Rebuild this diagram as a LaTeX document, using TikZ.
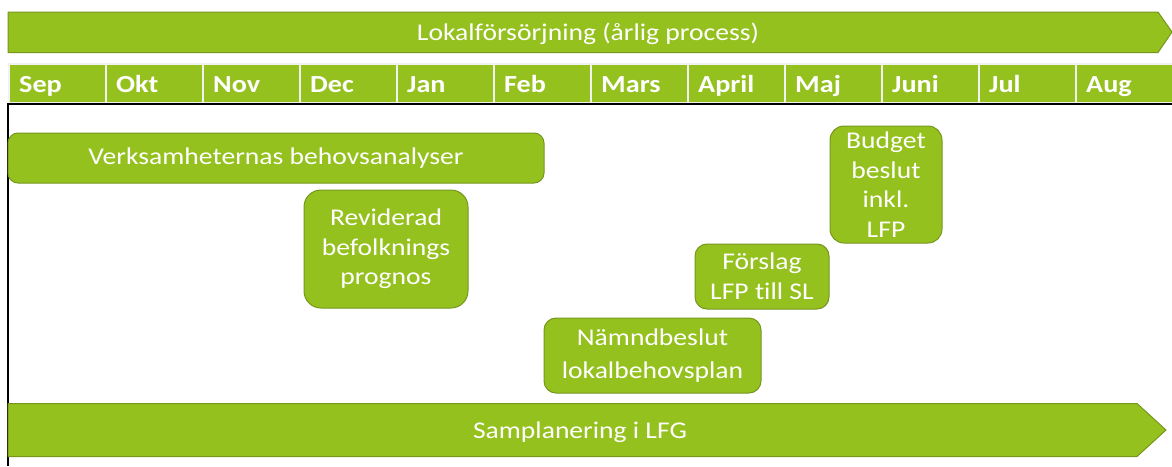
\documentclass[tikz,border=0pt]{standalone}
\usepackage{fontspec}
\setmainfont[FakeStretch=1.15,Ligatures=NoCommon]{Carlito}
\definecolor{lgreen}{RGB}{149,193,31}
\definecolor{dgreen}{RGB}{118,150,30}
\begin{document}
\begin{tikzpicture}[x=1pt,y=-1pt,
  boxst/.style={fill=lgreen,draw=dgreen,line width=1pt,text=white,align=center,font=\fontsize{24}{29.5}\selectfont,inner sep=0pt},
  monthst/.style={fill=lgreen,draw=white!90!gray,line width=1.5pt,anchor=north west,minimum width=97pt,minimum height=39pt,inner sep=0pt},
  mlabel/.style={text=white,font=\fontsize{24.5}{29}\selectfont\bfseries,anchor=base west,inner sep=0pt}]
\useasboundingbox (0,0) rectangle (1172,466);
% top banner arrow
\fill[lgreen,draw=dgreen,line width=1pt] (8,12) -- (1158,12) -- (1172,32) -- (1158,52.5) -- (8,52.5) -- cycle;
\node[text=white,font=\fontsize{24}{29}\selectfont] (title) at (588,33.5) {Lokalförsörjning (årlig process)};
% month header
\foreach \m [count=\i from 0] in {Sep,Okt,Nov,Dec,Jan,Feb,Mars,April,Maj,Juni,Jul,Aug}{
  \node[monthst] (m\i) at (8+97*\i,63) {};
  \node[mlabel] (ml\i) at (19+97*\i,92) {\m};
}
% frame
\draw[black,line width=1.5pt] (8,466) -- (8,104) -- (1172,104);
% boxes
\node[boxst,rounded corners=10pt,minimum width=536pt,minimum height=50pt] (beh) at (276,158) {\raisebox{-2pt}{Verksamheternas behovsanalyser}};
\node[boxst,rounded corners=17pt,minimum width=164pt,minimum height=118pt] (rev) at (386,249) {Reviderad\\befolknings\\prognos};
\node[boxst,rounded corners=12pt,minimum width=217pt,minimum height=75pt,font=\fontsize{24}{33}\selectfont] (nam) at (652.5,355.5) {Nämndbeslut\\lokalbehovsplan};
\node[boxst,rounded corners=12pt,minimum width=134pt,minimum height=65pt] (for) at (762,276.5) {Förslag\\LFP till SL};
\node[boxst,rounded corners=14pt,minimum width=112pt,minimum height=117pt] (bud) at (886,184.5) {Budget\\beslut\\inkl.\\LFP};
% bottom arrow
\fill[lgreen,draw=dgreen,line width=1pt] (8,403.5) -- (1137,403.5) -- (1166,430) -- (1137,456.5) -- (8,456.5) -- cycle;
\node[text=white,font=\fontsize{24}{29}\selectfont] (sam) at (580,432) {Samplanering i LFG};
\end{tikzpicture}
\end{document}
